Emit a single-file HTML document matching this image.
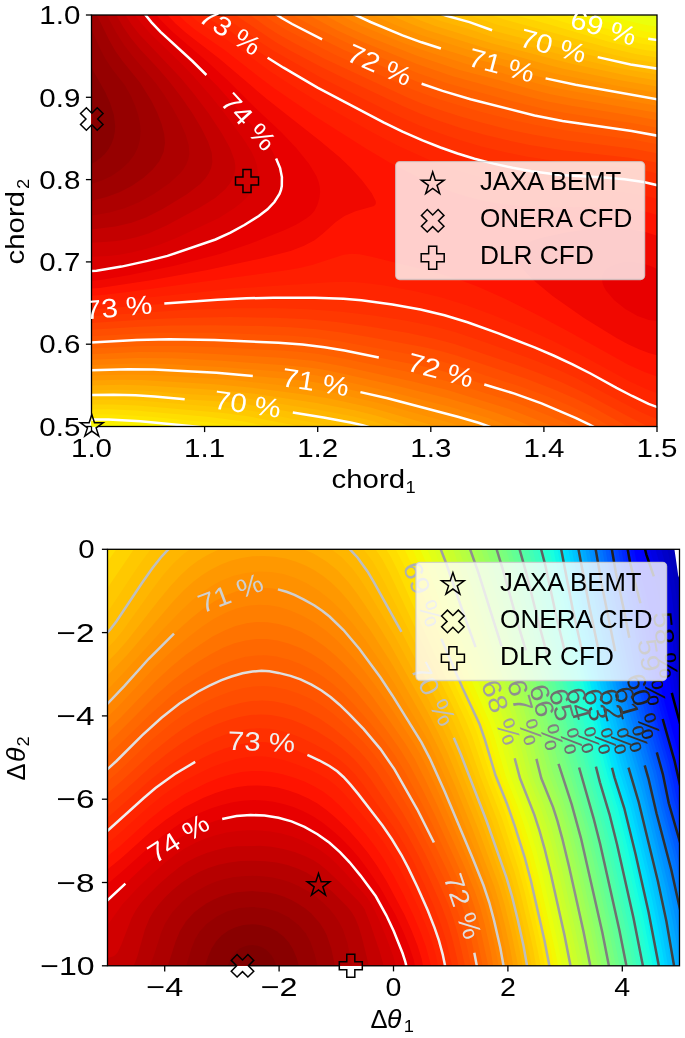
<!DOCTYPE html>
<html><head><meta charset="utf-8"><title>contours</title><style>html,body{margin:0;padding:0;background:#fff;}svg{display:block;}</style></head><body>
<svg width="685" height="1038" viewBox="0 0 685 1038" font-family="&quot;Liberation Sans&quot;, sans-serif">
<defs><clipPath id="ct"><rect x="91.50" y="15.00" width="565.50" height="411.50"/></clipPath><clipPath id="cb"><rect x="107.50" y="549.30" width="572.00" height="416.50"/></clipPath><filter id="bl" x="0" y="0" width="1" height="1" color-interpolation-filters="sRGB"><feGaussianBlur stdDeviation="0.60"/></filter></defs>
<g filter="url(#bl)">
<rect width="685" height="1038" fill="#fff"/>
<g clip-path="url(#ct)">
<rect x="89.5" y="13" width="569.5" height="415.5" fill="#e1ff16"/>
<path fill="#ebff0c" d="M659.5 429 L89.5 429 89.5 13 626.1 13 644.5 17.3 659.5 19.6 659.5 429Z"/>
<path fill="#f4f802" d="M659.5 429 L89.5 429 89.5 13 601.1 13 616.5 17.7 634.5 22.4 648.5 25.4 659.5 26.9 659.5 429Z"/>
<path fill="#fbf100" d="M659.5 429 L163.1 429 118.5 425.3 100.5 424.7 89.5 425 89.5 13 580 13 603.5 21 621.1 26 644.5 31.6 659.5 33.9 659.5 429Z"/>
<path fill="#ffe600" d="M659.5 429 L214.7 429 197.5 426.7 140.5 421.3 108.5 419.5 89.5 419.5 89.5 13 558.3 13 598.5 26.3 611.2 30 641.5 37.5 659.5 40.4 659.5 429Z"/>
<path fill="#ffde00" d="M659.5 429 L250.2 429 231.5 425.6 209.5 422.6 150.5 416.8 114.5 414.5 89.5 414.3 89.5 13 533.5 13 609.8 36 640.5 43.4 659.5 46.4 659.5 429Z"/>
<path fill="#ffd300" d="M659.5 429 L279.4 429 243.5 421.5 209.4 417 135.5 410.5 108.5 409.3 89.5 409.4 89.5 13 507.3 13 549.5 24.6 611.5 42.6 639.1 49 659.5 52.1 659.5 429Z"/>
<path fill="#ffc800" d="M659.5 429 L313 429 249.5 416.5 223.5 412.9 137.5 405.5 111.5 404.4 89.5 404.6 89.5 13 484.5 13 504.5 19.6 607.5 47.5 635.5 54 659.5 57.8 659.5 429Z"/>
<path fill="#ffc100" d="M659.5 429 L349.5 429 291.5 418.7 252.5 411 234.5 408.5 139.5 400.5 114.5 399.6 89.5 399.9 89.5 13 462.6 13 498.2 25 585.5 48 628.5 58.3 659.5 63.4 659.5 429Z"/>
<path fill="#ffb600" d="M659.5 429 L375.6 429 361.5 424.8 345.5 421.5 243.5 403.8 220.5 401.5 184.5 399.3 141.5 395.5 116.5 394.7 89.5 395.1 89.5 13 438.5 13 446.5 15.8 469.5 22.1 493.5 30.7 569.5 50.3 624.5 63.3 640.5 66.3 659.5 69 659.5 429Z"/>
<path fill="#ffae00" d="M659.5 429 L396.7 429 370.5 420.6 352.5 416.3 320.5 410.3 247.5 398.6 221.5 396.1 185.5 393.9 142.5 390.4 118.5 389.8 89.5 390.3 89.5 13 420.5 13 440.5 20.9 466.5 28.3 495.5 37.9 563.5 55.3 609.5 65.9 632.5 70.6 659.5 74.8 659.5 429Z"/>
<path fill="#ffa300" d="M659.5 429 L419.3 429 377.5 416 354.5 410.3 316.5 402.9 254.5 393.8 223.5 390.6 146.5 385.4 121.5 384.8 89.5 385.5 89.5 13 403.1 13 420.5 20.4 435.3 26 491.5 43.2 571.5 63.8 623.5 74.8 659.5 80.8 659.5 429Z"/>
<path fill="#ff9800" d="M659.5 429 L445.6 429 370.5 407.6 329.5 398.5 304.5 394.4 247.5 387.3 214.5 384.3 141.5 379.9 120.5 379.7 89.5 380.5 89.5 13 385.7 13 408.8 23 427.5 30.2 486.5 48.4 511.5 54.7 546.5 64.5 564.5 68.9 621.5 80.5 659.5 86.9 659.5 429Z"/>
<path fill="#ff9100" d="M659.5 429 L472.5 429 379.5 403.2 332.5 392.4 310.5 388.4 228.5 379.6 161.5 375.4 130.5 374.5 89.5 375.5 89.5 13 368.1 13 395.6 25 419.5 34.4 479.5 53.2 505.5 59.7 540.5 69.9 559.5 74.6 620.5 86.5 659.5 93.1 659.5 429Z"/>
<path fill="#ff8600" d="M659.5 429 L495.9 429 482.5 424.1 466.5 419.2 389.5 398.8 333.5 385.7 313.5 381.9 287.5 379 225.5 373.4 165.5 369.9 132.5 369.1 89.5 370.4 89.5 13 351.3 13 374.5 23.7 412.5 39.1 428.5 44.7 472.5 58.3 502.5 65.7 536.5 75.9 555.5 80.7 617.5 92.4 659.5 99.6 659.5 429Z"/>
<path fill="#ff7e00" d="M659.5 429 L516.8 429 488.1 418 452.5 407.5 387.5 391.1 333.5 378.7 315.5 375.3 290.5 372.5 224.5 367.3 170.5 364.3 135.5 363.6 89.5 365.1 89.5 13 335.9 13 359.5 25 402.5 42.7 424.5 50.8 465.5 63.8 500.5 72.6 534.5 82.7 552.5 87.2 575.5 91.7 659.5 106.3 659.5 429Z"/>
<path fill="#ff7300" d="M659.5 429 L537.5 429 515.9 420 496.5 412.9 474.5 405.9 447.5 398.2 398.5 386.2 338.5 372.7 322.5 369.4 308.5 367.4 287.5 365.4 221.5 360.7 171.5 358.3 136.5 357.9 89.5 359.7 89.5 13 320.6 13 347.5 27.3 372.5 38.2 417.5 56.1 459.5 69.9 500.5 80.6 533.5 90.1 550.5 94.3 572.5 98.5 659.5 113.3 659.5 429Z"/>
<path fill="#ff6800" d="M659.5 429 L558.4 429 532.5 417.9 508.5 408.8 446.5 389.7 412.5 381.4 341.5 365.9 312.5 360.7 280.5 357.8 215.5 353.9 176.5 352.3 138.5 352 89.5 354.2 89.5 13 304.8 13 337.5 30.4 360.5 41 417.5 64.2 453.5 76.4 527.5 96.5 547.5 101.4 569.5 105.6 637.5 116.5 659.5 120.6 659.5 429Z"/>
<path fill="#ff6000" d="M659.5 429 L578.9 429 549.5 415.9 520.5 404.5 502.5 398.4 445.5 380.8 430.5 376.9 407.5 371.8 339.5 357.7 318.5 354.1 301.5 352.1 281.5 350.6 218.5 347.3 183.5 346.1 141.5 345.9 89.5 348.5 89.5 13 288.9 13 313.5 26.4 351.5 45.1 417.5 72.9 446.5 83 478.5 92.1 524.5 104.3 543.5 108.7 567.5 113.2 634.5 123.5 659.5 128.2 659.5 429Z"/>
<path fill="#ff5500" d="M659.5 429 L597.6 429 587.5 423.5 571.5 416 534.5 400.7 513.5 393.3 482.7 384 447.5 372.4 434.5 368.8 414.5 364.4 326.5 347.5 305.5 344.9 282.5 343 193.5 339.6 145.5 339.6 89.5 342.6 89.5 13 274.2 13 283.5 19.1 296.5 26.4 343.5 49.8 380.5 65.6 416.5 81.6 441.5 90.6 480.5 102 539.5 116.6 570.5 122.2 636.5 131.8 659.5 136.1 659.5 429Z"/>
<path fill="#ff4e00" d="M659.5 429 L614.2 429 599.5 420.3 587.5 414 568.5 405.2 548.5 396.8 520.5 386.5 485.5 375.6 454.5 365.1 438.5 360.4 420.5 356.3 338.5 341.1 313.5 337.6 288.5 335.5 212.5 332.8 153.5 332.8 89.5 336.3 89.5 13 260.7 13 274.5 22.7 286.5 29.9 334.5 54.4 412.5 89.5 439.5 99.6 481.5 112.1 513.5 120.2 535.5 125.1 567.5 130.7 633.5 139.7 659.5 144.7 659.5 429Z"/>
<path fill="#ff4300" d="M659.5 429 L632 429 592.5 406.9 575.5 398.7 556.5 390.4 525.5 378.5 456.5 355.6 441.5 351.2 424.5 347.2 371.5 337.4 341.5 332.5 316.5 329.3 290.5 327.2 261.5 326 215.5 325.2 170.5 325.5 138.5 326.7 89.5 329.8 89.5 13 247.1 13 266.5 26.7 279.5 35 295.5 43.8 324.5 58.7 407.5 97.4 422.5 103.7 439.5 109.8 460.5 116.6 481.5 122.6 508.5 129.4 532.5 134.6 565.5 140.2 631.5 148.4 659.5 153.7 659.5 429Z"/>
<path fill="#ff3800" d="M659.5 429 L654 429 645.5 425.3 632.5 418.8 583.5 392.4 561.5 382.3 538.5 372.9 517.5 365.3 454.5 344.1 433.5 338.4 408.5 333.1 367.5 326.3 336.5 322 307.5 319.3 275.5 317.7 230.5 317.1 178.5 318 145.5 319.5 89.5 323.2 89.5 13 232.5 13 275.5 42 291.5 51.2 318.5 65.6 338.5 75.6 402.5 106.1 420.5 113.8 439.5 120.9 460.5 127.9 482.5 134.2 506.5 140.1 529.5 145 562.5 150.3 629.5 157.7 645.5 160.4 659.5 163.4 659.5 429Z"/>
<path fill="#ff3000" d="M659.5 419.9 L649.3 416 637.5 410.5 575.5 377.8 557.5 369.5 536.5 360.9 486.5 342.7 456.5 332.6 432.5 326.1 406.5 320.7 373.5 315.5 341.5 311.7 308.5 309.2 271.5 308.1 232.5 308.3 183.5 310.1 89.5 316.4 89.5 13 215.9 13 235.5 24.5 260.5 42.2 274.5 51.3 318.5 76.3 397.5 115.7 419.5 125.4 440.5 133.5 460.5 140.3 481.5 146.4 504.5 152.1 527.5 156.8 560.5 161.8 627.5 168 644.5 170.6 659.5 174 659.5 419.9Z"/>
<path fill="#ff2500" d="M659.5 407.9 L648.5 403.8 632.1 396 588.5 372.5 569.5 362.9 546.5 352.4 524.5 343.3 484.5 328.2 455.5 318.5 429.5 311.5 401.5 305.9 374.5 301.9 345.5 298.9 311.5 297.7 270.5 297.7 240.5 298.5 206.5 300.5 89.5 309.5 89.5 13 200 13 208.5 18.8 230.5 31.3 257.5 50.8 273.5 61.5 317.5 87.7 391.5 126.4 417.5 138.3 439.5 147.1 460.5 154.5 480.5 160.3 501.5 165.5 523.5 169.8 558.5 174.7 605.5 177.6 625.5 179.4 643.5 182 659.5 185.7 659.5 407.9Z"/>
<path fill="#ff1e00" d="M659.5 394 L646.1 389 628.8 381 582.5 355.8 552.5 340.8 523.5 327.6 493.5 315.2 466.5 305.3 441.5 297.6 415.5 291.3 384.5 285.6 367.5 283.2 354.5 282 342.5 281.7 328.5 282.3 235.5 288.5 108.5 301.4 89.5 302.7 89.5 13 187.7 13 199.5 23 227.5 40.3 269.5 70.9 299.5 90.4 321.5 103.7 372.5 132.4 397.5 145.4 430.5 160.4 459.5 171.2 474.5 175.7 490.5 179.7 507.5 183.3 525.5 186.2 555.5 189.3 602.5 191 622.5 192.4 642.5 195.2 659.5 199.4 659.5 394Z"/>
<path fill="#ff1300" d="M659.5 377.3 L644.5 372.1 628.7 365 568.5 331.6 536.5 314.5 504.5 298.6 477.5 286.6 456.5 278.8 436.5 272.7 370.5 256.5 359.5 254.3 351.5 253.8 343.5 254.8 312 265 299.5 267.9 286.5 270.2 127.6 292 104.5 294.8 89.5 295.8 89.5 13 176.5 13 185.6 22 195.5 30.1 224.6 50 257.5 75.8 274.5 88.4 315.5 116.4 365.5 148.3 389.5 162.4 424.5 180.3 438.5 186.6 453.5 192.4 467.5 196.8 481.5 200.4 495.5 203.1 510.5 205.1 526.5 206.6 543.5 207.3 596.5 207 617.5 207.7 639.5 210.5 649.5 212.7 659.5 215.7 659.5 377.3Z"/>
<path fill="#f10800" d="M99.5 288.1 L89.5 288.6 89.5 13 165.5 13 175.5 23.5 186.5 33.3 219.8 59 266.5 98.8 320.2 141 339.4 157 350.9 168 361.8 180 371.6 193 375.7 201 375.8 204 374.1 206 355.5 211.3 344.5 216.1 335.5 222.2 322.5 234.1 314.5 240.2 303.5 246.1 290.5 251 263.2 258 207.4 270 152.5 280 99.5 288.1ZM659.5 356 L649.5 353.3 639.5 349.5 628.5 344.5 616.5 338 584 318 552.6 296 533.3 280 526.2 273 521.3 267 518.3 262 516.7 257 516.8 253 518.8 249 521.9 246 526.9 243 534.1 240 542.5 237.4 566.5 232.2 591.5 228.8 610.5 228 628.5 229 644.5 231.8 659.5 236.5 659.5 356Z"/>
<path fill="#e80000" d="M100.5 280 L89.5 280.8 89.5 13 154.6 13 162.6 22 172.5 31.8 207.7 62 228.5 81 255.5 107.9 281.1 132 296.3 148 309.2 164 316.4 176 318.7 182 319.8 187 320.1 192 319.5 198 317.4 205 314.4 211 310.9 215 305.5 219.1 296.5 224.4 284.8 230 249.4 244 219.9 254 174.5 265.8 129.8 275 100.5 280ZM659.5 321.4 L648.8 320 637.5 316 625.2 309 614 300 606.3 291 604 287 602.5 283 602 279 602.3 276 603.4 273 605.6 270 609.5 266.9 615.5 264.2 622.5 262.6 629.5 262.1 637.5 262.7 644.5 264.1 652.5 266.7 659.5 270.1 659.5 321.4Z"/>
<path fill="#da0000" d="M94.5 271 L89.5 271.2 89.5 13 143.9 13 151.5 22.3 160.5 31.8 195.5 64 218.3 87 263.8 139 272.2 151 279 165 281.8 176 282.1 182 281.7 187 279.9 193 276.6 199 271.9 205 265.6 211 257.3 217 242.8 226 223.5 236 211.5 241 163.6 257 124.5 266 94.5 271Z"/>
<path fill="#d10000" d="M108.5 256 L89.5 256.8 89.5 13 133.6 13 141 23 150.5 33.8 181.6 64 193.2 76 210.8 96 222.8 111 243.5 139 251.1 151 254.5 158 256.8 165 257.9 171 257.8 176 256.5 181.8 254.3 187 251.2 192 247.1 197 241.5 202.5 234.7 208 219 218 176.4 238 159.5 244.8 145.7 249 131.5 252.5 119.5 254.8 108.5 256Z"/>
<path fill="#c40000" d="M103.5 242 L89.5 242.7 89.5 13 124.2 13 131.2 24 139.5 34.6 180.8 78 194.8 95 208.4 113 221.6 133 230 148 234.4 160 235.3 165 235.3 169 234.4 174 232.5 179 229.5 184 225.5 188.9 215.2 198 200.8 207 166.5 225.6 148.5 233.4 137.2 237 125.5 239.7 114.5 241.3 103.5 242Z"/>
<path fill="#b60000" d="M95.5 229.1 L89.5 229.7 89.5 13 115.1 13 123.2 27 131.6 39 140.5 49.8 157.7 68 168.9 81 180.5 96 191.6 112 201.3 128 208.2 142 211.8 153 212.4 162 211.2 168 209 173 205.5 178.3 200.2 184 187.3 194 162.7 209 146.5 217.3 131.5 222.8 115.5 226.6 95.5 229.1Z"/>
<path fill="#ad0000" d="M89.5 216.1 L89.5 13 105.7 13 115.9 32 124.1 45 132.6 56 155.7 83 164.3 95 172.5 108 180.1 122 185.8 135 188.7 145 189.3 154 188.4 159 186.5 164 183.6 169 180.4 173 169.7 183 153.5 194.2 138.5 202.6 124.5 208.3 109.5 212.5 89.5 216.1Z"/>
<path fill="#9f0000" d="M90.5 201.2 L89.5 201.4 89.5 13 95.4 13 98.5 18.3 109.1 40 115.5 51.2 122.5 61.1 140.3 83 151.5 101 157.4 113 161.6 124 164.2 134 165 143 163.6 152 159.5 161 152.5 169.8 143.3 178 131.6 186 119.5 192.2 106.5 197.1 90.5 201.2Z"/>
<path fill="#960000" d="M91.5 184.1 L89.5 184.7 89.5 25.3 100.3 49 105.5 59 112.1 69 124.7 85 130.9 96 135.2 106 138.2 115 139.9 123 140.6 131 139.9 140 137.7 148 134.2 155 128.5 162.4 120.2 170 111.5 175.9 102.5 180.3 91.5 184.1Z"/>
<path fill="#890000" d="M90.5 164.4 L89.5 164.8 89.5 62.4 93.9 72 105.2 92 110.1 103 113.9 115 115.2 126 114.8 132 113.6 138 111.4 144 108.7 149 104.8 154 100.5 158 95.5 161.7 90.5 164.4Z"/>
<path d="M648.2 38.8 L659.5 40.4M214.7 429 L197.5 426.7 140.5 421.3 108.5 419.5 89.5 419.5" fill="none" stroke="#ffffff" stroke-width="2.50"/>
<path d="M438.5 13 L446.5 15.8 469.5 22.1 492.1 30.3M597.7 57.1 L630.5 64.5 659.5 69M375.6 429 L362.5 425.1 350.5 422.5 323.5 417.5 292.8 412.5M184.7 399.3 L154.5 396.4 135.5 395.2 113.5 394.7 89.5 395.1" fill="none" stroke="#ffffff" stroke-width="2.50"/>
<path d="M351.3 13 L370.5 22 402.5 35.3 421.5 42.3 440.9 48.5M545.6 78.4 L575.5 84.7 659.5 99.6M495.9 429 L478.5 422.8 458.7 417 387.5 398.3 360.4 392.1M252.8 376.1 L216.5 372.8 153.5 369.4 128.5 369.2 89.5 370.4" fill="none" stroke="#ffffff" stroke-width="2.50"/>
<path d="M274.2 13 L281.7 18 292.1 24 322.1 39.3M421.6 83.7 L442.5 90.9 470.5 99.3 534.5 115.5 562.5 120.9 631.7 131 659.5 136.1M597.6 429 L588.5 424 575.5 417.8 541.5 403.4 514.5 393.6 484.3 384.5M378.8 357.5 L344.5 350.6 324.5 347.2 302.5 344.6 278.5 342.8 214.5 340.1 169.5 339.3 136.5 339.9 89.5 342.6" fill="none" stroke="#ffffff" stroke-width="2.50"/>
<path d="M267.6 57.7 L283.5 67.7 317.5 87.7 383.5 122.4 402.5 131.6 422.5 140.4 440.5 147.5 457.5 153.5 474.5 158.7 493.5 163.6 512.5 167.8 531.5 171.2 560.5 174.9 604.5 177.5 624.5 179.3 643.5 182 659.5 185.7M659.5 407.9 L648.5 403.8 632.1 396 616.5 387.9 590.5 373.5 572.5 364.3 553.5 355.5 534.5 347.4 498.5 333.4 467.5 322.3 444.5 315.3 420.5 309.5 392.5 304.4 361.5 300.3 343.5 298.8 314.5 297.7 273.5 297.7 246.5 298.3 217.5 299.8 164.3 303.4" fill="none" stroke="#ffffff" stroke-width="2.50"/>
<path d="M143.9 13 L151.5 22.3 160.5 31.8 192.3 61 206.4 75M276.1 158.4 L280.1 168 281.9 177 281.8 186 281 190 279.5 194 274.4 202 267.5 209.3 258.8 216 244.4 225 230.5 232.7 215.5 239.5 167.5 255.9 147.5 260.9 121.5 266.6 96.5 270.8 89.5 271.2" fill="none" stroke="#ffffff" stroke-width="2.50"/>
</g>
<g clip-path="url(#cb)">
<rect x="105.5" y="547.3" width="576" height="420.5" fill="#0000a8"/>
<path fill="#0000b2" d="M681.5 968.3 L105.5 968.3 105.5 547.3 678.7 547.3 681.5 563.7 681.5 968.3Z"/>
<path fill="#0000bf" d="M681.5 968.3 L105.5 968.3 105.5 547.3 673 547.3 679 579.3 681.5 603.4 681.5 968.3Z"/>
<path fill="#0000c8" d="M681.5 968.3 L105.5 968.3 105.5 547.3 666.9 547.3 672.5 571.5 675.5 588.6 677.9 611.3 681.5 657.3 681.5 968.3Z"/>
<path fill="#0000d6" d="M681.5 968.3 L105.5 968.3 105.5 547.3 660.7 547.3 668 574.3 671.4 592.3 674.1 615.3 678.7 667.3 681.5 688.3 681.5 968.3Z"/>
<path fill="#0000e3" d="M681.5 968.3 L105.5 968.3 105.5 547.3 654.8 547.3 663.1 575.3 667.1 593.3 670.1 616.3 676.2 677.3 678.5 691.3 681.5 704.5 681.5 968.3Z"/>
<path fill="#0000ed" d="M681.5 968.3 L105.5 968.3 105.5 547.3 649.4 547.3 651.2 554.3 658.8 577.3 662.8 594.3 666.2 617.3 673.6 683.3 676 696.3 681.5 717.4 681.5 968.3Z"/>
<path fill="#0000fa" d="M681.5 968.3 L105.5 968.3 105.5 547.3 644.6 547.3 646.3 554.3 654.7 579.3 658.7 595.3 662.4 618.3 668.1 668.3 670.8 687.3 673.6 700.3 681.5 729 681.5 968.3Z"/>
<path fill="#0000ff" d="M681.5 968.3 L105.5 968.3 105.5 547.3 640.6 547.3 642.5 555.8 651.1 582.3 654.9 597.3 658.8 620.3 664.8 670.3 667.8 689.3 671.3 704.3 681.5 740.2 681.5 968.3Z"/>
<path fill="#0000ff" d="M681.5 968.3 L105.5 968.3 105.5 547.3 637 547.3 639.1 557.3 648.3 587.3 652.2 604.3 655.8 626.3 662.1 675.3 665.3 693.3 681.5 751.7 681.5 968.3Z"/>
<path fill="#000cff" d="M681.5 968.3 L105.5 968.3 105.5 547.3 633.7 547.3 635.8 558.3 644.3 587.3 648.9 607.3 652.4 628.3 658.8 675.3 662.1 693.3 681.5 763.9 681.5 968.3Z"/>
<path fill="#0014ff" d="M681.5 968.3 L105.5 968.3 105.5 547.3 630.5 547.3 632.9 560.3 641.1 590.3 645.4 609.3 648.9 629.3 655.5 675.3 658.9 693.3 676.2 755.3 681.5 777.6 681.5 968.3Z"/>
<path fill="#0020ff" d="M681.5 968.3 L105.5 968.3 105.5 547.3 627.3 547.3 630 562.3 638.1 593.3 642.3 612.3 651.9 673.3 655.5 692.3 659 706.3 674.2 759.3 681.5 791.5 681.5 968.3Z"/>
<path fill="#0028ff" d="M681.5 968.3 L105.5 968.3 105.5 547.3 624.1 547.3 627.2 564.3 635.1 596.3 639 614.3 648.6 673.3 652.3 692.3 656.2 707.3 671.6 761.3 681.5 803.8 681.5 968.3Z"/>
<path fill="#0034ff" d="M681.5 968.3 L105.5 968.3 105.5 547.3 621 547.3 624.3 566.3 635.7 616.3 645.2 672.3 649.2 692.3 653.3 708.3 669.1 763.3 676.5 796.9 681.5 814.8 681.5 968.3Z"/>
<path fill="#0040ff" d="M681.5 968.3 L105.5 968.3 105.5 547.3 617.8 547.3 621.5 568.4 632.6 618.3 642 672.3 646.1 692.3 650.4 709.3 666.4 764.3 674 799.3 681.5 825.4 681.5 968.3Z"/>
<path fill="#0048ff" d="M681.5 968.3 L105.5 968.3 105.5 547.3 614.7 547.3 618.6 570.3 629.4 620.3 638.6 671.3 642.9 692.3 647.6 710.3 663.9 766.3 671.4 801.3 681.5 836.1 681.5 968.3Z"/>
<path fill="#0054ff" d="M681.5 968.3 L105.5 968.3 105.5 547.3 611.5 547.3 615.6 571.3 625.4 617.3 635.4 671.3 639.8 692.3 645 712.3 661.4 768.3 668.6 802.3 681.5 847.4 681.5 968.3Z"/>
<path fill="#005cff" d="M681.5 968.3 L105.5 968.3 105.5 547.3 608.3 547.3 613.1 575.3 636.4 691.3 642.4 714.3 658.8 770.3 666.1 804.3 681.5 859.4 681.5 968.3Z"/>
<path fill="#0068ff" d="M681.5 968.3 L105.5 968.3 105.5 547.3 605.1 547.3 610.6 579.3 633.3 691.3 639.9 716.3 656.3 772.3 663.6 806.3 681.5 872.1 681.5 968.3Z"/>
<path fill="#0074ff" d="M681.5 968.3 L105.5 968.3 105.5 547.3 601.9 547.3 608.1 583.3 629.9 690.3 637 717.3 653.5 773.5 661.2 808.3 673.5 853.3 681.5 885.6 681.5 968.3Z"/>
<path fill="#007cff" d="M681.5 968.3 L105.5 968.3 105.5 547.3 598.6 547.3 605.8 588.3 626.6 689.3 634.4 719.3 650.8 775.3 658.5 809.3 672.3 861.3 681.5 900.2 681.5 968.3Z"/>
<path fill="#0088ff" d="M681.5 968.3 L105.5 968.3 105.5 547.3 595.3 547.3 603.5 593.4 623 687.3 631.5 720.2 648.2 777.3 656.5 813.3 671.9 872.3 679.7 907.3 681.5 916.1 681.5 968.3Z"/>
<path fill="#0090ff" d="M681.5 968.3 L105.5 968.3 105.5 547.3 591.9 547.3 601.5 600.3 619.6 686.3 628.4 720.3 645.7 780.3 654.2 816.3 667.7 868.3 675.2 901.3 681.5 933.7 681.5 968.3Z"/>
<path fill="#009cff" d="M681.5 968.3 L105.5 968.3 105.5 547.3 588.5 547.3 599.4 606.3 616.2 685.3 625.2 720.3 643.8 785.3 670.3 893.3 676 921.3 681.5 952.8 681.5 968.3Z"/>
<path fill="#00a8ff" d="M680.5 968.3 L105.5 968.3 105.5 547.3 585 547.3 597.2 612.3 612.8 684.3 622 720.3 642.4 792.3 665.5 886.3 673.7 926.3 681 968.3 680.5 968.3Z"/>
<path fill="#00b0ff" d="M677.5 968.3 L105.5 968.3 105.5 547.3 581.6 547.3 594.5 615.3 609.1 682.3 619.2 721.3 640.6 797.3 661.8 884.3 670.1 924.3 677.5 968.3Z"/>
<path fill="#00bcff" d="M674.5 968.3 L105.5 968.3 105.5 547.3 578.1 547.3 591.3 616.3 605.4 680.3 627.3 763.3 638.2 800.3 657.9 881.3 666.4 921.3 674.5 968.3Z"/>
<path fill="#00c4ff" d="M670.5 968.3 L105.5 968.3 105.5 547.3 574.7 547.3 587.9 616.3 601.5 677.3 625 767.3 635.8 803.3 654.9 882.3 665.4 933.3 671.4 968.3 670.5 968.3Z"/>
<path fill="#00d0ff" d="M667.5 968.3 L105.5 968.3 105.5 547.3 571.3 547.3 584.3 615.3 597.5 674.3 622.2 769.3 633.4 806.3 651.3 880.3 662.3 933.3 668.3 968.3 667.5 968.3Z"/>
<path fill="#00dcfe" d="M664.5 968.3 L105.5 968.3 105.5 547.3 567.9 547.3 580.7 614.3 593.3 670.3 619.4 771.3 630.8 808.3 647.4 877.3 658.9 932.3 665.3 968.3 664.5 968.3Z"/>
<path fill="#00e4f8" d="M661.5 968.3 L105.5 968.3 105.5 547.3 564.4 547.3 576.8 612.3 589 666.3 616.6 773.3 628.1 810.3 643 872.3 655.4 930.3 662.3 968.3 661.5 968.3Z"/>
<path fill="#09f0ee" d="M658.5 968.3 L105.5 968.3 105.5 547.3 560.8 547.3 573.4 612.3 584.7 662.3 613.6 774.3 625.1 811.3 638.4 866.3 651.8 928.3 659.3 968.3 658.5 968.3Z"/>
<path fill="#0ff8e7" d="M655.5 968.3 L105.5 968.3 105.5 547.3 557 547.3 570 613.3 580.8 660.3 610.7 775.3 622.2 812.3 632.8 856.3 647.6 923.3 655.7 965.3 656.2 968.3 655.5 968.3Z"/>
<path fill="#19ffde" d="M652.5 968.3 L105.5 968.3 105.5 547.3 553 547.3 566.9 615.3 576.9 658.3 607.8 776.3 617.8 808.3 626.8 844.3 643.5 919 651.8 961.3 653 968.3 652.5 968.3Z"/>
<path fill="#23ffd4" d="M649.5 968.3 L105.5 968.3 105.5 547.3 549 547.3 552.5 562 564 618.3 573.3 657.3 604.9 777.3 614.5 808.3 621.9 837.3 639.5 915.4 647.5 955.3 649.9 968.3 649.5 968.3Z"/>
<path fill="#29ffce" d="M646.5 968.3 L105.5 968.3 105.5 547.3 544.8 547.3 549.3 565.3 560.8 620.3 569.3 655.3 602 778.3 611.2 808.3 617.9 834.3 635.8 913.3 643.4 950.3 646.5 968.3Z"/>
<path fill="#33ffc4" d="M642.5 968.3 L105.5 968.3 105.5 547.3 540.6 547.3 545.3 565.3 556.5 617.3 565.2 653.3 599.4 780.3 608.1 809.3 614.6 834.3 636.1 930.3 643.4 968.3 642.5 968.3Z"/>
<path fill="#39ffbe" d="M639.5 968.3 L105.5 968.3 105.5 547.3 536.4 547.3 541.7 567.3 553 618.3 561.4 652.3 596.4 781.3 605.1 810.3 610.8 832.3 632.4 928.3 639.2 962.3 640.2 968.3 639.5 968.3Z"/>
<path fill="#43ffb4" d="M636.5 968.3 L105.5 968.3 105.5 547.3 532.1 547.3 538 569.3 549.4 619.3 557.2 650.3 607.2 831.3 628.5 925.3 635 957.3 636.9 968.3 636.5 968.3Z"/>
<path fill="#4dffaa" d="M633.5 968.3 L105.5 968.3 105.5 547.3 527.8 547.3 534.4 571.3 545.8 620.3 553 648.3 603.5 829.9 623.8 919.3 630.5 951.2 633.5 968.3Z"/>
<path fill="#53ffa4" d="M629.5 968.3 L105.5 968.3 105.5 547.3 523.4 547.3 530.4 572.3 548.7 646.3 600.2 830.3 608.9 867.3 623.7 934.3 629.6 964.3 630.3 968.3 629.5 968.3Z"/>
<path fill="#5dff9a" d="M626.5 968.3 L105.5 968.3 105.5 547.3 519 547.3 526.4 573.3 544.3 644.3 596.5 829.3 604.5 863 619.2 929.3 625.2 958.3 626.9 968.3 626.5 968.3Z"/>
<path fill="#63ff94" d="M622.5 968.3 L105.5 968.3 105.5 547.3 514.6 547.3 522.3 574.3 539.8 642.3 555.6 696.3 569 745.3 593 829.3 601.5 865 617.5 937.4 623.5 968.3 622.5 968.3Z"/>
<path fill="#6dff8a" d="M619.5 968.3 L105.5 968.3 105.5 547.3 510.1 547.3 517.7 573.3 535.3 640.3 552.5 698.3 566.9 751.3 589.2 828.3 597.2 861.3 612.9 932.3 618.6 960.3 620 968.3 619.5 968.3Z"/>
<path fill="#77ff80" d="M616.5 968.3 L105.5 968.3 105.5 547.3 505.5 547.3 513.2 573.3 530.6 638.3 548.8 698.3 564.7 757.3 585.2 826.3 592.7 857.3 607.5 923.3 616.5 968.3Z"/>
<path fill="#7dff7a" d="M612.5 968.3 L105.5 968.3 105.5 547.3 500.9 547.3 508.3 572.3 526.7 639.3 546.5 703.6 562.5 763.3 574.5 801.3 581.5 826 589.5 858.7 605.7 931.3 611.4 959.3 613 968.3 612.5 968.3Z"/>
<path fill="#87ff70" d="M608.5 968.3 L105.5 968.3 105.5 547.3 496 547.3 503.1 570.3 522.4 639.3 542.9 704.3 559.2 766.3 570.8 801.3 577.7 825.3 586.3 860.3 603.2 936.3 609.4 968.3 608.5 968.3Z"/>
<path fill="#8dff6a" d="M605.5 968.3 L105.5 968.3 105.5 547.3 491 547.3 498 569.3 518.3 640.3 539 704.3 555.9 769.3 567.3 802.3 573.5 823.3 581.9 857.3 597.5 927 603.3 954.3 605.5 968.3Z"/>
<path fill="#97ff60" d="M601.5 968.3 L105.5 968.3 105.5 547.3 485.8 547.3 493 569.3 514.8 643.3 535.3 705.3 552.3 771.3 563.4 802.3 569.5 822.5 578.5 858.3 594.6 930.3 600.5 959.3 602.1 968.3 601.5 968.3Z"/>
<path fill="#a0ff56" d="M597.5 968.3 L105.5 968.3 105.5 547.3 480.5 547.3 488.3 570.3 510.8 645.3 531.2 705.3 536.7 725.3 548.8 774.3 559.5 802.3 565.9 823.3 574.7 858.3 591.5 933.4 597.7 964.3 598.4 968.3 597.5 968.3Z"/>
<path fill="#a7ff50" d="M594.5 968.3 L105.5 968.3 105.5 547.3 475 547.3 483.3 571.3 506.8 647.3 526.7 704.3 533.4 728.3 544.5 774.3 555.5 802.5 561.8 822.3 567.8 845.3 574.5 873.8 589.5 941.6 594.5 968.3Z"/>
<path fill="#b1ff46" d="M590.5 968.3 L105.5 968.3 105.5 547.3 469.4 547.3 478.3 572.3 502.3 648.3 522.7 705.3 529.7 730.3 540.7 776.3 551.7 803.3 558.1 823.3 564.5 847.3 571.5 877.3 586.3 944.3 590.5 968.3Z"/>
<path fill="#b7ff40" d="M586.5 968.3 L105.5 968.3 105.5 547.3 463.8 547.3 472.8 572.3 497.7 649.3 519.1 708.3 526 732.3 536.8 777.3 547.8 804.3 554.4 824.3 560.6 847.3 567.6 877.3 582.6 945.3 586.4 965.3 586.9 968.3 586.5 968.3Z"/>
<path fill="#c1ff36" d="M582.5 968.3 L105.5 968.3 105.5 547.3 458.1 547.3 467.2 572.3 493 650.3 515.5 711.3 522.1 734.3 532.6 777.3 544.3 806.3 550.6 825.3 557.1 849.3 564.1 879.3 579.1 947.3 583 968.3 582.5 968.3Z"/>
<path fill="#caff2c" d="M578.5 968.3 L105.5 968.3 105.5 547.3 452.3 547.3 460.7 570.3 487 648.3 511.7 714.3 518.2 736.3 528.3 777.3 540.4 807.3 546.5 825.6 553 849.3 559.9 878.3 575.1 947.3 579.1 968.3 578.5 968.3Z"/>
<path fill="#d1ff26" d="M574.5 968.3 L105.5 968.3 105.5 547.3 446.2 547.3 453.5 566.7 482 649.3 508.2 718.3 514.2 738.3 524 777.3 536.4 808.3 542.5 826.3 549.2 850.3 555.9 878.3 571.1 947.3 575 968.3 574.5 968.3Z"/>
<path fill="#dbff1c" d="M570.5 968.3 L105.5 968.3 105.5 547.3 440 547.3 446.5 564.3 472.4 638.3 504 720.3 509.6 738.3 520 778.3 531.6 807.3 538.1 826.3 545 850.3 551.5 877 567 947.3 571 968.3 570.5 968.3Z"/>
<path fill="#e1ff16" d="M566.5 968.3 L105.5 968.3 105.5 547.3 433.4 547.3 439.8 563.3 466.1 637.3 480 673.3 499.4 721.3 505.1 739.3 515.3 777.3 527.5 808.2 533.7 826.3 541 851.3 547.4 877.3 562.7 946.3 566.4 965.3 566.9 968.3 566.5 968.3Z"/>
<path fill="#ebff0c" d="M562.5 968.3 L105.5 968.3 105.5 547.3 426.5 547.3 433.1 563.3 460.1 637.3 475.5 676.3 494.7 722.3 499.9 738.3 510.7 777.3 522.6 807.3 528.9 825.3 536.5 850.9 542.7 875.3 558.1 944.3 562.5 968.3Z"/>
<path fill="#f4f802" d="M557.5 968.3 L105.5 968.3 105.5 547.3 419.3 547.3 426.2 563.3 439.2 599.3 454.2 638.3 471.3 680.3 489.6 722.3 494.9 738.3 505.7 776.3 517.6 806.3 523.5 823.3 532.5 852.5 539.6 880.3 555.1 950.3 558.5 968.3 557.5 968.3Z"/>
<path fill="#fbf100" d="M553.5 968.3 L105.5 968.3 105.5 547.3 411.7 547.3 419.3 564.3 430.8 595.3 448.2 639.3 467 684.3 484.5 722.7 489.8 738.3 500.5 775.3 511.7 803.3 517.8 820.3 528.2 853.3 535 879.3 550.3 947.3 554.2 968.3 553.5 968.3Z"/>
<path fill="#ffe600" d="M549.5 968.3 L105.5 968.3 105.5 547.3 403.6 547.3 411.7 564.3 423.1 594.3 442 640.3 462.3 687.3 477.1 718.3 481.5 729.4 495.1 774.3 510.5 813.3 525.5 860.2 532.5 887.3 543.6 936.3 548.3 959.3 549.9 968.3 549.5 968.3Z"/>
<path fill="#ffde00" d="M545.5 968.3 L105.5 968.3 105.5 547.3 394.7 547.3 403.5 564.3 416.9 597.3 435.7 641.3 457.1 689.3 472 720.3 476.5 731.4 490.1 774.3 505.5 813.6 521.5 862.7 531.1 900.3 540.8 943.3 545.5 968.3Z"/>
<path fill="#ffd300" d="M540.5 968.3 L105.5 968.3 105.5 564.5 117.7 547.3 384.9 547.3 391.1 557.3 396.6 568.3 431 646.3 465.7 720.3 471.9 735.3 486 777.3 502.5 819.8 518.3 868.3 525 893.3 534.6 935.3 540.1 962.3 541.1 968.3 540.5 968.3Z"/>
<path fill="#ffc800" d="M536.5 968.3 L105.5 968.3 105.5 590.9 135.2 547.3 374.2 547.3 382.3 559.3 389.5 572.8 430 659.3 457.4 716.3 467.3 739.3 481 778.3 497.3 820.3 514.5 871.7 520.7 894.3 528.2 926.3 533.2 949.3 536.5 968.3Z"/>
<path fill="#ffc100" d="M531.5 968.3 L105.5 968.3 105.5 615.2 138.8 565.3 152.2 547.3 362.2 547.3 372.7 561.3 382.5 578.5 407.4 627.3 443.7 701.3 453.6 722.3 462.5 743 492.2 821.3 511 876.3 517.4 899.3 525.3 933.3 530.6 959.3 532.1 968.3 531.5 968.3Z"/>
<path fill="#ffb600" d="M527.5 968.3 L105.5 968.3 105.5 634.8 110.4 629.3 116.5 621.2 152.5 568.1 161.8 556.3 170.3 547.3 347.9 547.3 356.5 556.3 363.5 565.4 370.5 576.2 400.5 630 438.5 704.6 447.8 724.3 458.4 748.3 487.4 823.3 506.7 878.3 512.5 898.3 518.3 922.3 523.8 947.3 527.5 968.3Z"/>
<path fill="#ffae00" d="M522.5 968.3 L105.5 968.3 105.5 649.8 114.5 640.7 122.3 631.3 151.5 590.4 163.5 574.6 173.5 563.2 183.5 554 192.6 547.3 328.8 547.3 341.5 557 352.1 568.3 358.5 576.7 365.5 587.3 394.9 636.3 433.5 708.9 442.5 727.4 453.5 751.8 482.5 825.2 503.1 882.3 509.1 903.3 515.3 929.3 520.8 955.3 523 968.3 522.5 968.3Z"/>
<path fill="#ffa300" d="M517.5 968.3 L105.5 968.3 105.5 663.7 116.5 652.8 126.7 641.3 159.5 599.2 170.5 585.9 180.5 575.2 189.5 567 197.5 561 206.5 555.4 215.5 550.9 224.6 547.3 298.5 547.3 313.5 553.6 326.5 561.4 337.5 570.3 348.5 582.2 356.5 592.7 365.5 605.8 380.5 628.7 390.5 645.2 427.5 711.8 438.5 733.3 447.8 753.3 477.2 826.3 499 885.3 505.1 906.3 511.6 933.3 517.4 962.3 518.3 968.3 517.5 968.3Z"/>
<path fill="#ff9800" d="M513.5 968.3 L105.5 968.3 105.5 677.6 126.9 655.3 173.5 601 183.5 590.6 193.5 581.6 202.5 574.8 211.5 569.2 221.5 564.2 231.5 560.5 241.5 558 252.5 556.3 263.5 555.9 274.5 556.7 285.5 558.6 295.5 561.5 305.5 565.6 314.5 570.3 323.5 576.3 331.5 582.7 339.5 590.5 348.5 600.7 369.5 628.9 390.5 661.5 406.5 688.7 428.5 727.8 442.1 755.3 454.9 785.3 471.5 826.5 494.3 886.3 499.7 904.3 505 925.3 510.7 951.3 513.5 968.3Z"/>
<path fill="#ff9100" d="M508.5 968.3 L105.5 968.3 105.5 691.7 122.5 674 163.5 628.7 182.5 609.2 192.5 600.1 202.5 592.1 212.5 585.4 221.5 580.6 233.5 575.8 245.5 572.9 258.5 571.5 271.5 571.9 283.5 574 295.5 577.9 306.8 583.3 318.5 590.5 329.5 599 340.5 609.5 352.5 623.2 365.5 640.1 380.5 661.8 393.5 682 424.5 734.2 430.6 745.3 439.5 764.4 451.6 792.3 481.2 865.3 489.1 886.3 494.8 904.3 500.2 925.3 506.5 954.3 508.9 968.3 508.5 968.3Z"/>
<path fill="#ff8600" d="M503.5 968.3 L105.5 968.3 105.5 705.8 124.5 685.9 148.5 659 178.5 629.5 191.5 618.1 203.5 608.6 214.5 601.3 225.5 595.5 236.5 591.3 248.5 588.6 260.5 587.7 271.5 588.3 281.5 590.3 292.5 594 304.5 599.8 317.5 607.5 328.5 615.6 339.5 625.8 350.5 637.8 362.5 652.9 376.5 671.8 387.5 687.9 419.5 739 425.3 749.3 446.5 795.5 475.5 865 484.5 888.1 490 905.3 495.5 926.3 502 956.3 504 968.3 503.5 968.3Z"/>
<path fill="#ff7e00" d="M498.5 968.3 L105.5 968.3 105.5 719 117.6 707.3 154.5 667.4 173.5 649.6 188.5 636.9 201.5 627 213.5 619.1 225.5 612.7 236.5 608.4 247.5 605.8 258.5 604.7 269.5 605.2 279.5 607 290.5 610.5 302.5 615.8 314.5 622.5 326.5 631.1 337.5 640.8 349.5 653.4 363.5 670.1 374.5 684.4 385.5 700.1 412.6 741.3 420.3 754.3 429.5 773.1 442.5 801.6 470.5 866.8 479.5 889.3 485.2 906.3 490.2 925.3 496.7 955.3 499 968.3 498.5 968.3Z"/>
<path fill="#ff7300" d="M493.5 968.3 L105.5 968.3 105.5 732 120.9 717.3 155.5 681.2 171.5 666.4 185.5 655.1 199.5 644.9 212.5 636.6 224.5 630.4 235.5 626 246.5 623.2 256.5 622 267.5 622.2 278.5 623.9 289.5 627.1 301.5 632 312.5 638 324.5 646.2 335.5 655.4 347.5 667.2 359.5 680.6 371.5 695.6 384.5 713.4 405.5 743.8 414.5 758.6 425.5 780.2 438.5 807.8 464.5 866.5 474.8 891.3 479.9 906.3 484.7 924.3 491.1 953.3 493.5 968.3Z"/>
<path fill="#ff6800" d="M487.5 968.3 L105.5 968.3 105.5 745.1 118.5 732.7 154.5 696.6 172.5 680.4 185.5 670.4 198.5 661.5 211.5 653.7 223.5 647.6 234.5 643.3 245.5 640.4 256.5 638.9 266.5 639 277.5 640.4 288.5 643.4 300.5 648 311.5 653.7 322.5 660.8 333.5 669.4 344.5 679.6 356.5 692.3 371.5 710.4 387.5 731.4 400.5 749.9 409.5 764.6 422.5 789.5 434.5 814.1 459.5 869 470.2 894.3 475.3 909.3 480.5 929.4 487.5 962.3 488.5 968.3 487.5 968.3Z"/>
<path fill="#ff6000" d="M482.5 968.3 L105.5 968.3 105.5 758.2 148.5 716.1 171.5 695.6 183.5 686.5 195.5 678.7 209.5 670.6 222.5 664.3 234.5 659.8 245.5 656.8 255.5 655.4 265.5 655.2 276.5 656.6 288.5 659.6 300.5 664.1 311.5 669.5 322.5 676.3 333.5 684.6 343.5 693.6 354.5 705 370.5 723.3 384.5 740.8 395.5 756.3 404.5 771 419.5 798.8 430.5 820.6 452.5 867.5 465 896.3 469.6 909.3 474.4 927.3 481.2 958.3 483 968.3 482.5 968.3Z"/>
<path fill="#ff5500" d="M476.5 968.3 L105.5 968.3 105.5 771 116.5 761 145.5 732.1 172.5 708.8 183.5 700.7 195.5 693.2 207.5 686.7 221.5 680.2 232.5 676.1 244.5 672.9 254.5 671.2 264.5 670.9 275.5 672.3 289.5 675.6 300.5 679.4 311.5 684.6 322.5 691.2 333.5 699.4 344.5 709.4 359.5 724.7 371.5 738 381.5 750.4 390.6 763.3 399.5 777.7 415.5 806.1 426.5 827.2 446.5 868.9 460 899.3 464.5 912.2 469.5 931.3 476.3 962.3 477.3 968.3 476.5 968.3Z"/>
<path fill="#ff4e00" d="M470.5 968.3 L105.5 968.3 105.5 783 118.5 771.8 149.5 741.7 171.5 723.3 183.5 714.6 194.5 707.8 206.5 701.3 218.5 695.9 230.5 691.5 242.5 688.3 253.5 686.5 263.5 686.1 274.5 687.1 286.5 689.6 298.5 693.4 309.5 698.3 321.5 705.3 333.5 714.1 349.5 728.2 363.5 742.3 373.5 753.9 382.5 766 390.6 778.3 403.5 799.7 416.4 822.3 428.5 845.9 443.5 877.2 454.5 902.3 459.4 916.3 464.4 935.3 470.5 963.3 471.4 968.3 470.5 968.3Z"/>
<path fill="#ff4300" d="M464.5 968.3 L105.5 968.3 105.5 794.9 120.5 782.1 152.5 752.3 170.5 737.7 182.5 729.1 193.5 722.1 204.5 716.1 216.5 710.6 228.5 706.2 240.5 702.9 251.5 701.1 262.5 700.5 273.5 701.3 284.5 703.4 295.5 706.8 306.5 711.4 319.5 718.6 332.5 727.5 347.5 739.8 359.5 751.3 368.5 761.6 377.5 773.6 402.5 812.5 413.5 831.4 424.9 853.3 438.2 881.3 448.3 904.3 453.5 918.9 458.5 936.8 464.2 962.3 465.3 968.3 464.5 968.3Z"/>
<path fill="#ff3800" d="M458.5 968.3 L105.5 968.3 105.5 807 121.5 793.3 150.5 767 168.5 752.5 181.5 743.3 193.5 735.8 205.5 729.3 216.5 724.3 228.5 719.9 239.5 716.9 250.5 715.1 260.5 714.5 270.5 715 281.5 716.9 292.5 720 303.5 724.4 316.5 731.1 330.5 739.8 342.5 748.7 353.5 758.6 361.5 767.4 370.5 778.9 398.5 820.3 408.5 837 418.8 856.3 430.5 880.7 441.3 905.3 447.2 921.3 452 937.3 456.8 957.3 458.9 968.3 458.5 968.3Z"/>
<path fill="#ff3000" d="M451.5 968.3 L105.5 968.3 105.5 819.6 147.5 782.2 166.5 767 178.5 758.7 191.5 750.6 203.5 743.9 215.5 738.3 227.5 733.8 238.5 730.8 249.5 728.8 259.5 728.2 269.5 728.7 279.5 730.5 289.5 733.3 300.5 737.5 314.5 744.2 328.5 752 338.5 758.7 347.5 766.4 355 774.3 363.5 785 394.5 828.5 404.5 844.8 412.9 860.3 423.4 882.3 434.5 907.6 441.5 926.1 446.3 941.3 451.5 963.3 452.4 968.3 451.5 968.3Z"/>
<path fill="#ff2500" d="M445.5 968.3 L105.5 968.3 105.5 832.6 147.5 794.7 162.5 782.7 174.5 774.3 186.5 766.8 200.5 759.1 213.5 752.8 225.5 748.2 236.5 745 247.5 742.9 257.5 742 266.5 742.3 275.5 743.7 285.5 746.3 296.5 750.2 324.5 763.1 333.5 768.6 340.5 774.1 347.5 781.2 355.5 790.6 387.9 833.3 397.5 848.2 405.4 862.3 414.8 881.3 426.4 907.3 434 926.3 438.5 939.3 442.7 954.3 445.5 968.3Z"/>
<path fill="#ff1e00" d="M438.5 968.3 L105.5 968.3 105.5 845.1 115.5 836.9 147.5 807.7 163.5 794.8 174.5 787.2 186.5 779.8 199.5 772.9 211.5 767.3 223.5 762.7 234.5 759.4 245.5 757.3 255.5 756.3 264.5 756.5 274.5 757.9 284.5 760.3 295.5 764 309.5 769.6 319.5 774.4 327.8 779.3 335.5 785.2 343.5 793 352.5 803.2 373.2 828.3 382.5 840.7 391.5 854.5 399.5 868.5 408.5 886.4 419.5 910.3 427.4 929.3 432.1 942.3 436.1 956.3 438.5 968.3Z"/>
<path fill="#ff1300" d="M430.5 968.3 L105.5 968.3 105.5 857.8 119.5 846.4 149.5 819.3 165.5 806.5 185.5 793.5 207.5 782.5 219.5 777.8 230.5 774.5 241.5 772.1 251.5 771 261.5 770.9 271.5 771.9 282.5 774.2 293.5 777.4 304.5 781.6 314.5 786.4 323.5 791.8 331.5 797.9 340.5 806.2 352.5 819 365.8 834.3 375.8 847.3 384.6 860.3 393.5 875.4 403.5 894.6 413.5 915.6 421 933.3 426.1 947.3 430.6 964.3 431.4 968.3 430.5 968.3Z"/>
<path fill="#f10800" d="M423.5 968.3 L105.5 968.3 105.5 871.1 121.5 858 151.5 831.1 165.5 819.9 184.5 807.3 203.5 797.7 215.5 792.9 226.5 789.5 237.5 787 247.5 785.7 257.5 785.4 267.5 786 277.5 787.6 288.5 790.4 298.5 793.9 308.5 798.4 317.5 803.5 326.5 809.9 336.5 818.4 347.5 829.1 358.5 841.2 367.5 852.3 376.5 865.1 386.5 881 404.5 914.8 411.5 930.3 417.5 945.4 421.5 958.3 423.5 968.3Z"/>
<path fill="#e80000" d="M415.5 968.3 L105.5 968.3 105.5 885.4 121.5 872 151.5 845 163.5 835.1 181.5 822.6 199.5 813 210.5 808.5 221.5 804.9 232.5 802.2 242.5 800.7 253.5 800.1 263.5 800.4 273.5 801.7 283.5 803.9 293.5 807 303.5 811.3 313.5 816.6 322.5 822.6 332.5 830.4 341.5 838.5 350.5 847.7 358.7 857.3 367.5 869 380 887.3 395.2 914.3 402.5 929.8 409.3 946.3 413.6 959.3 415.5 968.3Z"/>
<path fill="#da0000" d="M406.5 968.3 L105.5 968.3 105.5 902.2 145.5 864.7 161.5 850.7 177.5 838.9 194.5 829.2 204.5 824.7 215.5 820.8 225.5 818.1 236.5 816.1 247.5 815.1 257.5 815.1 268.5 816 278.5 817.7 288.5 820.4 298.5 824.2 308.5 828.9 318.5 834.9 327.5 841.2 335.5 847.9 343.5 855.6 351.5 864.5 373.9 893.3 385.3 913.3 392.5 928.3 400.5 947.6 405.2 961.3 406.9 968.3 406.5 968.3Z"/>
<path fill="#d10000" d="M396.5 968.3 L105.5 968.3 105.5 927.8 122.5 904.3 137.2 888.3 151.8 874.3 164.5 863 175.5 854.5 185.1 848.3 195.5 842.8 205.5 838.6 215.5 835.3 226.5 832.6 237.5 831 248.5 830.3 259.5 830.4 270.5 831.4 281.5 833.5 291.5 836.3 302.5 840.5 312.5 845.5 320.5 850.3 328.4 856.3 336.1 863.3 344.5 872 366.5 896.8 372.2 905.3 379.7 921.3 387.4 940.3 393.6 957.3 396.5 968.3Z"/>
<path fill="#c40000" d="M383.5 968.3 L105.5 968.3 105.5 958.6 113.5 956.2 115.5 954.8 117.7 952.3 121.1 945.3 131.5 918.3 135.8 910.3 140.5 903.6 148.8 894.3 158.9 884.3 169.5 874.9 179.1 867.3 186.5 862.3 196 857.3 206.5 853 216.5 849.9 226.5 847.6 236.5 846.3 259.5 845.8 271.5 846.7 283.5 848.9 294.5 852 305.5 856.3 313.5 860.3 319.7 864.3 327.5 870.8 338.5 881.2 358.5 901.3 362.5 906 364.6 909.3 370.5 924.2 379.5 951 384.4 968.3 383.5 968.3Z"/>
<path fill="#b60000" d="M369.5 968.3 L132.7 968.3 137.1 957.3 145 929.3 149.5 918.3 153.6 911.3 158.5 904.7 165.1 897.3 172.4 890.3 181.5 882.8 190.5 876.7 199.5 871.7 208.5 867.9 218.5 864.7 229.5 862.4 240.5 861.1 252.5 860.7 265.5 861.2 276.5 862.6 287.5 865.1 297.5 868.5 306.5 872.6 314.5 877.4 322.5 883.4 332.8 892.3 347.8 907.3 351.8 912.3 355.3 918.3 358.5 926.2 361.6 936.3 369.5 968.3Z"/>
<path fill="#ad0000" d="M352.5 968.3 L148.7 968.3 153.6 956.3 161.3 932.3 165.2 923.3 172.5 912 182.6 901.3 189.5 895.7 197.5 890.5 207.2 885.3 215.5 881.8 223.5 879.3 232.8 877.3 242.5 876.2 252.5 875.8 262.5 876.2 272.5 877.4 281.5 879.4 290.2 882.3 298.5 886 308.5 891.6 316.5 897.1 323.8 903.3 329.7 909.3 334.6 915.3 339.5 922.8 342.9 929.3 347.5 943.3 352.5 968.3Z"/>
<path fill="#9f0000" d="M335.5 968.3 L167 968.3 175.7 941.3 179.8 931.3 186 921.3 194.3 912.3 200.5 907.4 206.7 903.3 214.3 899.3 221.5 896.3 228.5 894.1 236.5 892.3 252.5 891.1 268.5 892.5 276.5 894.3 283.5 896.6 291.5 900.1 298.5 903.9 305 908.3 311.1 913.3 319.9 923.3 323.7 929.3 326.8 935.3 331.2 948.3 335.5 968.3Z"/>
<path fill="#960000" d="M317.5 968.3 L185.5 968.3 191.5 948.3 195 939.3 199.9 931.3 206.5 924.1 216.5 916.7 227.5 911.3 239.5 908.1 252.5 907 265.5 908.2 277.5 911.7 288.6 917.3 298.5 925 305.7 933.3 310.5 942 314.7 954.3 318.1 968.3 317.5 968.3Z"/>
<path fill="#890000" d="M299.5 968.3 L204.2 968.3 208.2 956.3 211.7 948.3 216.2 941.3 221.5 935.6 228.5 930.5 235.5 927.2 243.5 925 252.5 924.2 261.5 925.2 269.5 927.6 276.8 931.3 283.5 936.5 288.7 942.3 293 949.3 296.7 958.3 299.5 968.3Z"/>
<path fill="#800000" d="M276.5 968.3 L226.5 968.3 231.4 957.3 236.5 951 240.2 948.3 243.5 946.7 247.5 945.5 252.5 945.1 257.5 945.7 261.5 947.1 265.4 949.3 268.5 951.9 271.4 955.3 273.8 959.3 277.4 968.3 276.5 968.3Z"/>
<path fill="#fff" d="M674.4 549.3 L676.0 560 L678.2 575.5 L679.6 579 L681 549.3Z"/>
<path d="M644.6 547.3 L646.3 554.3 653.8 576.4M671.8 692.9 L681.5 729" fill="none" stroke="#000000" stroke-width="2.50"/>
<path d="M627.3 547.3 L630.2 563.3 640.4 603.2M662.7 719 L674.4 760.3 681.5 791.5" fill="none" stroke="#101010" stroke-width="2.50"/>
<path d="M611.5 547.3 L615.8 572.3 624.4 612.3 629.3 637.8M656.8 752.4 L662.9 774.3 668.8 803.3 681.5 847.4" fill="none" stroke="#202020" stroke-width="2.50"/>
<path d="M595.3 547.3 L602.3 587.3 615.2 651.2M644.7 765.4 L648.4 778.3 656.5 813.3 671.4 870.3 681.5 916.1" fill="none" stroke="#303030" stroke-width="2.50"/>
<path d="M578.1 547.3 L589.5 607.3 599.2 653.3M628.5 767.6 L638.5 801.3 657.9 881.3 666.4 921.3 674.5 968.3" fill="none" stroke="#404040" stroke-width="2.50"/>
<path d="M560.8 547.3 L572.7 609.3 582.6 653.5M612 767.8 L614.5 777.3 624.3 808.3 635.6 854.3 648.6 912.3 659.3 968.3" fill="none" stroke="#505050" stroke-width="2.50"/>
<path d="M540.6 547.3 L545.3 565.3 556.3 616.3 565.1 652.7M595.9 766.6 L599.9 782.3 609.5 814.3 617 844.3 633.5 917.9 643.4 968.3" fill="none" stroke="#606060" stroke-width="2.50"/>
<path d="M519 547.3 L526.1 572.3 539 624.3 547 653.9M579.1 767.5 L593.6 818.3 600.2 844.3 619.4 930.3 626.9 968.3" fill="none" stroke="#707070" stroke-width="2.50"/>
<path d="M496 547.3 L502.5 568.3 517.8 623.3 525.8 650.4M558.5 763.8 L571.7 804.3 581 838.3 602.3 932.3 609.4 968.3" fill="none" stroke="#808080" stroke-width="2.50"/>
<path d="M469.4 547.3 L478.3 572.3 501.6 646.3M536.4 758.9 L541.3 778.3 553.1 807.3 557.5 821.2 562.2 838.3 569.2 867.3 583.5 931.5 590.8 968.3" fill="none" stroke="#8f8f8f" stroke-width="2.50"/>
<path d="M440 547.3 L446.5 564.3 464.1 615.3 475.6 647.1M514.7 758.3 L520 778.3 534.2 814.3 539.4 830.3 544.5 848.3 551.1 875.3 564.5 935.3 571 968.3" fill="none" stroke="#9f9f9f" stroke-width="2.50"/>
<path d="M441.3 638.7 L462.7 688.3 479.6 724.3 484.5 738.5 495.5 775.3 507.2 804.3 514.9 826.3 524.7 857.3 530.8 880.3 544.5 940.5 549.9 968.3" fill="none" stroke="#afafaf" stroke-width="2.50"/>
<path d="M105.5 634.8 L110.4 629.3 116.5 621.2 141.8 583.3 152.5 568.1 161.8 556.3 170.3 547.3M347.9 547.3 L357.5 557.5 367.5 571.4 374 582.3 401.5 631.9M453.8 737.7 L460.8 754.3 486.5 820.8 506.4 877.3 512 896.3 517.9 920.3 523.6 946.3 527.5 968.3" fill="none" stroke="#bfbfbf" stroke-width="2.50"/>
<path d="M105.5 705.8 L124.5 685.9 148.5 659 174 633.7M277.9 589.4 L286.5 591.8 294.5 594.9 303.5 599.3 314.5 605.5 322.5 611 329.5 616.5 343.5 630 359.5 649 380.5 677.5 392.5 695.7 421.5 742.3 429.8 758.3 444.5 790.9 472.5 857.8 483.5 885.3 489.2 902.3 494 920.3 500.2 947.3 504 968.3" fill="none" stroke="#cfcfcf" stroke-width="2.50"/>
<path d="M105.5 771 L116.5 761 142.1 735.3 161.5 717.8 179.5 703.5 197.5 692 209.5 685.7 221.5 680.2 231.5 676.5 242.5 673.3 252.5 671.5 261.5 670.8 269.5 671.3 278.5 672.9 290.5 675.9 300.5 679.4 311.5 684.6 321.5 690.5 330.5 697 339.5 704.7 349.5 714.3 363.5 728.9 380.5 749.1 394.5 769.4 417.2 809.3 433.9 842.5M474.3 952.8 L477.3 968.3" fill="none" stroke="#dfdfdf" stroke-width="2.50"/>
<path d="M105.5 832.6 L143.5 798.3 155.5 788.1 174.5 774.3 195.2 761.9M307.4 754.9 L319.5 760.5 329.5 766 337.2 771.3 343.5 777 350.5 784.6 358.5 794.4 382.5 825.6 391.9 839.3 401.5 855 408.5 868.4 417.5 887.2 427.7 910.3 434.5 927.6 438.9 940.3 442.7 954.3 445.6 968.3" fill="none" stroke="#efefef" stroke-width="2.50"/>
<path d="M105.5 902.2 L125.4 883.7M222.2 818.9 L236.5 816.1 250.5 815 264.5 815.5 278.5 817.7 291.5 821.4 304.5 826.9 317.5 834.2 329.5 842.8 340.2 852.3 349.6 862.3 360.5 875.6 375.8 896.3 386.3 915.3 393.8 931.3 402.6 953.3 405.2 961.3 406.9 968.3" fill="none" stroke="#ffffff" stroke-width="2.50"/>
</g>
<mask id="spt" maskUnits="userSpaceOnUse" x="0" y="0" width="685" height="1038"><rect width="685" height="1038" fill="#fff"/><path d="M97.22 107.74 L103.06 113.58 L97.64 119.00 L103.06 124.42 L97.22 130.26 L91.80 124.84 L86.38 130.26 L80.54 124.42 L85.96 119.00 L80.54 113.58 L86.38 107.74 L91.80 113.16ZM242.97 169.40 L251.03 169.40 L251.03 176.88 L258.50 176.88 L258.50 184.93 L251.03 184.93 L251.03 192.40 L242.97 192.40 L242.97 184.93 L235.50 184.93 L235.50 176.88 L242.97 176.88ZM91.80 414.60 L94.47 422.82 L103.12 422.82 L96.12 427.90 L98.79 436.13 L91.80 431.05 L84.81 436.13 L87.48 427.90 L80.48 422.82 L89.13 422.82Z" fill="#000"/></mask><rect x="91.50" y="15.00" width="565.50" height="411.50" fill="none" stroke="#000" stroke-width="1.3" mask="url(#spt)"/>
<path d="M97.22 107.74 L103.06 113.58 L97.64 119.00 L103.06 124.42 L97.22 130.26 L91.80 124.84 L86.38 130.26 L80.54 124.42 L85.96 119.00 L80.54 113.58 L86.38 107.74 L91.80 113.16Z" fill="none" stroke="#000" stroke-width="1.50" stroke-linejoin="miter"/>
<path d="M242.97 169.40 L251.03 169.40 L251.03 176.88 L258.50 176.88 L258.50 184.93 L251.03 184.93 L251.03 192.40 L242.97 192.40 L242.97 184.93 L235.50 184.93 L235.50 176.88 L242.97 176.88Z" fill="none" stroke="#000" stroke-width="1.50" stroke-linejoin="miter"/>
<path d="M91.80 414.60 L94.47 422.82 L103.12 422.82 L96.12 427.90 L98.79 436.13 L91.80 431.05 L84.81 436.13 L87.48 427.90 L80.48 422.82 L89.13 422.82Z" fill="none" stroke="#000" stroke-width="1.50" stroke-linejoin="miter"/>
<line x1="91.50" y1="426.50" x2="91.50" y2="432.10" stroke="#000" stroke-width="1.3"/>
<text x="91.50" y="456.80" font-size="26.5" text-anchor="middle" fill="#000" textLength="41.0" lengthAdjust="spacingAndGlyphs">1.0</text>
<line x1="204.60" y1="426.50" x2="204.60" y2="432.10" stroke="#000" stroke-width="1.3"/>
<text x="204.60" y="456.80" font-size="26.5" text-anchor="middle" fill="#000" textLength="41.0" lengthAdjust="spacingAndGlyphs">1.1</text>
<line x1="317.70" y1="426.50" x2="317.70" y2="432.10" stroke="#000" stroke-width="1.3"/>
<text x="317.70" y="456.80" font-size="26.5" text-anchor="middle" fill="#000" textLength="41.0" lengthAdjust="spacingAndGlyphs">1.2</text>
<line x1="430.80" y1="426.50" x2="430.80" y2="432.10" stroke="#000" stroke-width="1.3"/>
<text x="430.80" y="456.80" font-size="26.5" text-anchor="middle" fill="#000" textLength="41.0" lengthAdjust="spacingAndGlyphs">1.3</text>
<line x1="543.90" y1="426.50" x2="543.90" y2="432.10" stroke="#000" stroke-width="1.3"/>
<text x="543.90" y="456.80" font-size="26.5" text-anchor="middle" fill="#000" textLength="41.0" lengthAdjust="spacingAndGlyphs">1.4</text>
<line x1="657.00" y1="426.50" x2="657.00" y2="432.10" stroke="#000" stroke-width="1.3"/>
<text x="657.00" y="456.80" font-size="26.5" text-anchor="middle" fill="#000" textLength="41.0" lengthAdjust="spacingAndGlyphs">1.5</text>
<line x1="85.90" y1="15.00" x2="91.50" y2="15.00" stroke="#000" stroke-width="1.3"/>
<text x="80.30" y="24.20" font-size="26.5" text-anchor="end" fill="#000" textLength="41.0" lengthAdjust="spacingAndGlyphs">1.0</text>
<line x1="85.90" y1="97.30" x2="91.50" y2="97.30" stroke="#000" stroke-width="1.3"/>
<text x="80.30" y="106.50" font-size="26.5" text-anchor="end" fill="#000" textLength="41.0" lengthAdjust="spacingAndGlyphs">0.9</text>
<line x1="85.90" y1="179.60" x2="91.50" y2="179.60" stroke="#000" stroke-width="1.3"/>
<text x="80.30" y="188.80" font-size="26.5" text-anchor="end" fill="#000" textLength="41.0" lengthAdjust="spacingAndGlyphs">0.8</text>
<line x1="85.90" y1="261.90" x2="91.50" y2="261.90" stroke="#000" stroke-width="1.3"/>
<text x="80.30" y="271.10" font-size="26.5" text-anchor="end" fill="#000" textLength="41.0" lengthAdjust="spacingAndGlyphs">0.7</text>
<line x1="85.90" y1="344.20" x2="91.50" y2="344.20" stroke="#000" stroke-width="1.3"/>
<text x="80.30" y="353.40" font-size="26.5" text-anchor="end" fill="#000" textLength="41.0" lengthAdjust="spacingAndGlyphs">0.6</text>
<line x1="85.90" y1="426.50" x2="91.50" y2="426.50" stroke="#000" stroke-width="1.3"/>
<text x="80.30" y="435.70" font-size="26.5" text-anchor="end" fill="#000" textLength="41.0" lengthAdjust="spacingAndGlyphs">0.5</text>
<text x="331.60" y="487.90" font-size="26.5" text-anchor="start" fill="#000" textLength="73.4" lengthAdjust="spacingAndGlyphs">chord</text>
<text x="405.50" y="492.60" font-size="17.0" text-anchor="start" fill="#000" textLength="10.2" lengthAdjust="spacingAndGlyphs">1</text>
<text x="24.30" y="264.40" font-size="26.5" text-anchor="start" fill="#000" textLength="73.4" lengthAdjust="spacingAndGlyphs" transform="rotate(-90.00 24.30 264.40)">chord</text>
<text x="28.80" y="189.00" font-size="17.0" text-anchor="start" fill="#000" textLength="10.2" lengthAdjust="spacingAndGlyphs" transform="rotate(-90.00 28.80 189.00)">2</text>
<mask id="spb" maskUnits="userSpaceOnUse" x="0" y="0" width="685" height="1038"><rect width="685" height="1038" fill="#fff"/><path d="M318.50 873.50 L321.17 881.72 L329.82 881.72 L322.82 886.80 L325.49 895.03 L318.50 889.95 L311.51 895.03 L314.18 886.80 L307.18 881.72 L315.83 881.72ZM247.92 954.54 L253.76 960.38 L248.34 965.80 L253.76 971.22 L247.92 977.06 L242.50 971.64 L237.08 977.06 L231.24 971.22 L236.66 965.80 L231.24 960.38 L237.08 954.54 L242.50 959.96ZM346.78 954.30 L354.82 954.30 L354.82 961.77 L362.30 961.77 L362.30 969.82 L354.82 969.82 L354.82 977.30 L346.78 977.30 L346.78 969.82 L339.30 969.82 L339.30 961.77 L346.78 961.77Z" fill="#000"/></mask><rect x="107.50" y="549.30" width="572.00" height="416.50" fill="none" stroke="#000" stroke-width="1.3" mask="url(#spb)"/>
<path d="M318.50 873.50 L321.17 881.72 L329.82 881.72 L322.82 886.80 L325.49 895.03 L318.50 889.95 L311.51 895.03 L314.18 886.80 L307.18 881.72 L315.83 881.72Z" fill="none" stroke="#000" stroke-width="1.50" stroke-linejoin="miter"/>
<path d="M247.92 954.54 L253.76 960.38 L248.34 965.80 L253.76 971.22 L247.92 977.06 L242.50 971.64 L237.08 977.06 L231.24 971.22 L236.66 965.80 L231.24 960.38 L237.08 954.54 L242.50 959.96Z" fill="none" stroke="#000" stroke-width="1.50" stroke-linejoin="miter"/>
<path d="M346.78 954.30 L354.82 954.30 L354.82 961.77 L362.30 961.77 L362.30 969.82 L354.82 969.82 L354.82 977.30 L346.78 977.30 L346.78 969.82 L339.30 969.82 L339.30 961.77 L346.78 961.77Z" fill="none" stroke="#000" stroke-width="1.50" stroke-linejoin="miter"/>
<line x1="164.70" y1="965.80" x2="164.70" y2="971.40" stroke="#000" stroke-width="1.3"/>
<text x="164.70" y="996.20" font-size="26.5" text-anchor="middle" fill="#000" textLength="36.9" lengthAdjust="spacingAndGlyphs">−4</text>
<line x1="279.10" y1="965.80" x2="279.10" y2="971.40" stroke="#000" stroke-width="1.3"/>
<text x="279.10" y="996.20" font-size="26.5" text-anchor="middle" fill="#000" textLength="36.9" lengthAdjust="spacingAndGlyphs">−2</text>
<line x1="393.50" y1="965.80" x2="393.50" y2="971.40" stroke="#000" stroke-width="1.3"/>
<text x="393.50" y="996.20" font-size="26.5" text-anchor="middle" fill="#000" textLength="15.9" lengthAdjust="spacingAndGlyphs">0</text>
<line x1="507.90" y1="965.80" x2="507.90" y2="971.40" stroke="#000" stroke-width="1.3"/>
<text x="507.90" y="996.20" font-size="26.5" text-anchor="middle" fill="#000" textLength="15.9" lengthAdjust="spacingAndGlyphs">2</text>
<line x1="622.30" y1="965.80" x2="622.30" y2="971.40" stroke="#000" stroke-width="1.3"/>
<text x="622.30" y="996.20" font-size="26.5" text-anchor="middle" fill="#000" textLength="15.9" lengthAdjust="spacingAndGlyphs">4</text>
<line x1="101.90" y1="549.30" x2="107.50" y2="549.30" stroke="#000" stroke-width="1.3"/>
<text x="94.60" y="558.30" font-size="26.5" text-anchor="end" fill="#000" textLength="16.4" lengthAdjust="spacingAndGlyphs">0</text>
<line x1="101.90" y1="632.60" x2="107.50" y2="632.60" stroke="#000" stroke-width="1.3"/>
<text x="94.60" y="641.60" font-size="26.5" text-anchor="end" fill="#000" textLength="38.0" lengthAdjust="spacingAndGlyphs">−2</text>
<line x1="101.90" y1="715.90" x2="107.50" y2="715.90" stroke="#000" stroke-width="1.3"/>
<text x="94.60" y="724.90" font-size="26.5" text-anchor="end" fill="#000" textLength="38.0" lengthAdjust="spacingAndGlyphs">−4</text>
<line x1="101.90" y1="799.20" x2="107.50" y2="799.20" stroke="#000" stroke-width="1.3"/>
<text x="94.60" y="808.20" font-size="26.5" text-anchor="end" fill="#000" textLength="38.0" lengthAdjust="spacingAndGlyphs">−6</text>
<line x1="101.90" y1="882.50" x2="107.50" y2="882.50" stroke="#000" stroke-width="1.3"/>
<text x="94.60" y="891.50" font-size="26.5" text-anchor="end" fill="#000" textLength="38.0" lengthAdjust="spacingAndGlyphs">−8</text>
<line x1="101.90" y1="965.80" x2="107.50" y2="965.80" stroke="#000" stroke-width="1.3"/>
<text x="94.60" y="974.80" font-size="26.5" text-anchor="end" fill="#000" textLength="54.3" lengthAdjust="spacingAndGlyphs">−10</text>
<text x="370.50" y="1027.80" font-size="26.5" text-anchor="start" fill="#000" textLength="17.1" lengthAdjust="spacingAndGlyphs">Δ</text>
<text x="387.00" y="1027.80" font-size="26.5" text-anchor="start" fill="#000" font-style="italic">θ</text>
<text x="403.80" y="1032.20" font-size="17.0" text-anchor="start" fill="#000" textLength="10.2" lengthAdjust="spacingAndGlyphs">1</text>
<text x="24.50" y="780.50" font-size="26.5" text-anchor="start" fill="#000" textLength="17.1" lengthAdjust="spacingAndGlyphs" transform="rotate(-90.00 24.50 780.50)">Δ</text>
<text x="25.40" y="762.00" font-size="26.5" text-anchor="start" fill="#000" transform="rotate(-90.00 25.40 762.00)" font-style="italic">θ</text>
<text x="28.60" y="746.50" font-size="17.0" text-anchor="start" fill="#000" textLength="10.2" lengthAdjust="spacingAndGlyphs" transform="rotate(-90.00 28.60 746.50)">2</text>
<text x="603.50" y="27.85" font-size="26.5" text-anchor="middle" fill="#ffffff" textLength="67.3" lengthAdjust="spacingAndGlyphs" transform="rotate(16.48 603.50 27.85)" dominant-baseline="central">69 %</text>
<text x="553.09" y="46.00" font-size="26.5" text-anchor="middle" fill="#ffffff" textLength="67.3" lengthAdjust="spacingAndGlyphs" transform="rotate(14.92 553.09 46.00)" dominant-baseline="central">70 %</text>
<text x="247.50" y="404.28" font-size="26.5" text-anchor="middle" fill="#ffffff" textLength="67.3" lengthAdjust="spacingAndGlyphs" transform="rotate(7.91 247.50 404.28)" dominant-baseline="central">70 %</text>
<text x="501.50" y="65.46" font-size="26.5" text-anchor="middle" fill="#ffffff" textLength="67.3" lengthAdjust="spacingAndGlyphs" transform="rotate(14.81 501.50 65.46)" dominant-baseline="central">71 %</text>
<text x="315.50" y="382.19" font-size="26.5" text-anchor="middle" fill="#ffffff" textLength="67.3" lengthAdjust="spacingAndGlyphs" transform="rotate(8.85 315.50 382.19)" dominant-baseline="central">71 %</text>
<text x="379.50" y="65.12" font-size="26.5" text-anchor="middle" fill="#ffffff" textLength="67.3" lengthAdjust="spacingAndGlyphs" transform="rotate(23.33 379.50 65.12)" dominant-baseline="central">72 %</text>
<text x="440.50" y="370.35" font-size="26.5" text-anchor="middle" fill="#ffffff" textLength="67.3" lengthAdjust="spacingAndGlyphs" transform="rotate(14.99 440.50 370.35)" dominant-baseline="central">72 %</text>
<text x="230.11" y="31.00" font-size="26.5" text-anchor="middle" fill="#ffffff" textLength="67.3" lengthAdjust="spacingAndGlyphs" transform="rotate(32.64 230.11 31.00)" dominant-baseline="central">73 %</text>
<text x="118.50" y="307.37" font-size="26.5" text-anchor="middle" fill="#ffffff" textLength="67.3" lengthAdjust="spacingAndGlyphs" transform="rotate(-5.23 118.50 307.37)" dominant-baseline="central">73 %</text>
<text x="248.50" y="121.81" font-size="26.5" text-anchor="middle" fill="#ffffff" textLength="67.3" lengthAdjust="spacingAndGlyphs" transform="rotate(47.80 248.50 121.81)" dominant-baseline="central">74 %</text>
<text x="665.51" y="645.30" font-size="26.5" text-anchor="middle" fill="#000000" textLength="67.3" lengthAdjust="spacingAndGlyphs" transform="rotate(83.88 665.51 645.30)" dominant-baseline="central">58 %</text>
<text x="651.74" y="672.30" font-size="26.5" text-anchor="middle" fill="#101010" textLength="67.3" lengthAdjust="spacingAndGlyphs" transform="rotate(80.64 651.74 672.30)" dominant-baseline="central">59 %</text>
<text x="643.35" y="706.30" font-size="26.5" text-anchor="middle" fill="#202020" textLength="67.3" lengthAdjust="spacingAndGlyphs" transform="rotate(74.84 643.35 706.30)" dominant-baseline="central">60 %</text>
<text x="631.25" y="719.30" font-size="26.5" text-anchor="middle" fill="#303030" textLength="67.3" lengthAdjust="spacingAndGlyphs" transform="rotate(74.38 631.25 719.30)" dominant-baseline="central">61 %</text>
<text x="615.98" y="721.30" font-size="26.5" text-anchor="middle" fill="#404040" textLength="67.3" lengthAdjust="spacingAndGlyphs" transform="rotate(74.78 615.98 721.30)" dominant-baseline="central">62 %</text>
<text x="599.95" y="721.30" font-size="26.5" text-anchor="middle" fill="#505050" textLength="67.3" lengthAdjust="spacingAndGlyphs" transform="rotate(74.80 599.95 721.30)" dominant-baseline="central">63 %</text>
<text x="583.15" y="720.30" font-size="26.5" text-anchor="middle" fill="#606060" textLength="67.3" lengthAdjust="spacingAndGlyphs" transform="rotate(74.65 583.15 720.30)" dominant-baseline="central">64 %</text>
<text x="566.05" y="721.30" font-size="26.5" text-anchor="middle" fill="#707070" textLength="67.3" lengthAdjust="spacingAndGlyphs" transform="rotate(74.84 566.05 721.30)" dominant-baseline="central">65 %</text>
<text x="546.47" y="717.30" font-size="26.5" text-anchor="middle" fill="#808080" textLength="67.3" lengthAdjust="spacingAndGlyphs" transform="rotate(75.10 546.47 717.30)" dominant-baseline="central">66 %</text>
<text x="524.85" y="712.30" font-size="26.5" text-anchor="middle" fill="#8f8f8f" textLength="67.3" lengthAdjust="spacingAndGlyphs" transform="rotate(73.74 524.85 712.30)" dominant-baseline="central">67 %</text>
<text x="501.01" y="712.30" font-size="26.5" text-anchor="middle" fill="#9f9f9f" textLength="67.3" lengthAdjust="spacingAndGlyphs" transform="rotate(69.00 501.01 712.30)" dominant-baseline="central">68 %</text>
<text x="423.14" y="594.30" font-size="26.5" text-anchor="middle" fill="#afafaf" textLength="67.3" lengthAdjust="spacingAndGlyphs" transform="rotate(68.37 423.14 594.30)" dominant-baseline="central">69 %</text>
<text x="433.25" y="694.30" font-size="26.5" text-anchor="middle" fill="#bfbfbf" textLength="67.3" lengthAdjust="spacingAndGlyphs" transform="rotate(62.59 433.25 694.30)" dominant-baseline="central">70 %</text>
<text x="230.65" y="593.30" font-size="26.5" text-anchor="middle" fill="#cfcfcf" textLength="67.3" lengthAdjust="spacingAndGlyphs" transform="rotate(-20.72 230.65 593.30)" dominant-baseline="central">71 %</text>
<text x="462.64" y="906.30" font-size="26.5" text-anchor="middle" fill="#dfdfdf" textLength="67.3" lengthAdjust="spacingAndGlyphs" transform="rotate(71.11 462.64 906.30)" dominant-baseline="central">72 %</text>
<text x="261.50" y="742.00" font-size="26.5" text-anchor="middle" fill="#efefef" textLength="67.3" lengthAdjust="spacingAndGlyphs" transform="rotate(2.12 261.50 742.00)" dominant-baseline="central">73 %</text>
<text x="178.50" y="838.28" font-size="26.5" text-anchor="middle" fill="#ffffff" textLength="67.3" lengthAdjust="spacingAndGlyphs" transform="rotate(-32.57 178.50 838.28)" dominant-baseline="central">74 %</text>
<rect x="395.7" y="161.7" width="248.9" height="117.8" rx="4" ry="4" fill="#fff" fill-opacity="0.8" stroke="#ccc" stroke-opacity="0.8" stroke-width="1.3"/>
<path d="M432.70 172.00 L435.37 180.22 L444.02 180.22 L437.02 185.30 L439.69 193.53 L432.70 188.45 L425.71 193.53 L428.38 185.30 L421.38 180.22 L430.03 180.22Z" fill="none" stroke="#000" stroke-width="1.50" stroke-linejoin="miter"/>
<text x="479.90" y="190.30" font-size="26.5" text-anchor="start" fill="#000" textLength="141.4" lengthAdjust="spacingAndGlyphs">JAXA BEMT</text>
<path d="M438.12 209.54 L443.96 215.38 L438.54 220.80 L443.96 226.22 L438.12 232.06 L432.70 226.64 L427.28 232.06 L421.44 226.22 L426.86 220.80 L421.44 215.38 L427.28 209.54 L432.70 214.96Z" fill="none" stroke="#000" stroke-width="1.50" stroke-linejoin="miter"/>
<text x="479.90" y="227.30" font-size="26.5" text-anchor="start" fill="#000" textLength="152.5" lengthAdjust="spacingAndGlyphs">ONERA CFD</text>
<path d="M428.68 246.20 L436.72 246.20 L436.72 253.67 L444.20 253.67 L444.20 261.72 L436.72 261.72 L436.72 269.20 L428.68 269.20 L428.68 261.72 L421.20 261.72 L421.20 253.67 L428.68 253.67Z" fill="none" stroke="#000" stroke-width="1.50" stroke-linejoin="miter"/>
<text x="479.90" y="264.30" font-size="26.5" text-anchor="start" fill="#000" textLength="114.0" lengthAdjust="spacingAndGlyphs">DLR CFD</text>
<rect x="415.9" y="562.3" width="250.7" height="118.2" rx="4" ry="4" fill="#fff" fill-opacity="0.8" stroke="#ccc" stroke-opacity="0.8" stroke-width="1.3"/>
<path d="M452.90 572.60 L455.57 580.82 L464.22 580.82 L457.22 585.90 L459.89 594.13 L452.90 589.05 L445.91 594.13 L448.58 585.90 L441.58 580.82 L450.23 580.82Z" fill="none" stroke="#000" stroke-width="1.50" stroke-linejoin="miter"/>
<text x="500.10" y="590.90" font-size="26.5" text-anchor="start" fill="#000" textLength="141.4" lengthAdjust="spacingAndGlyphs">JAXA BEMT</text>
<path d="M458.32 610.14 L464.16 615.98 L458.74 621.40 L464.16 626.82 L458.32 632.66 L452.90 627.24 L447.48 632.66 L441.64 626.82 L447.06 621.40 L441.64 615.98 L447.48 610.14 L452.90 615.56Z" fill="none" stroke="#000" stroke-width="1.50" stroke-linejoin="miter"/>
<text x="500.10" y="627.90" font-size="26.5" text-anchor="start" fill="#000" textLength="152.5" lengthAdjust="spacingAndGlyphs">ONERA CFD</text>
<path d="M448.88 646.80 L456.92 646.80 L456.92 654.27 L464.40 654.27 L464.40 662.32 L456.92 662.32 L456.92 669.80 L448.88 669.80 L448.88 662.32 L441.40 662.32 L441.40 654.27 L448.88 654.27Z" fill="none" stroke="#000" stroke-width="1.50" stroke-linejoin="miter"/>
<text x="500.10" y="664.90" font-size="26.5" text-anchor="start" fill="#000" textLength="114.0" lengthAdjust="spacingAndGlyphs">DLR CFD</text>
</g>
</svg>
</body></html>
